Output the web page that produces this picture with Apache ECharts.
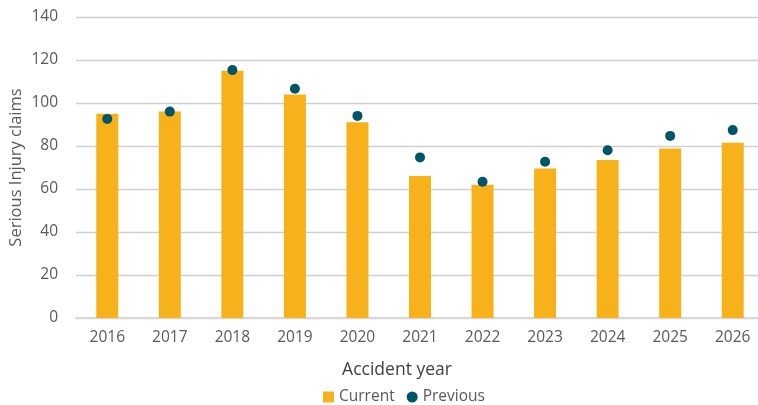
<!DOCTYPE html>
<html>
<head>
<meta charset="utf-8">
<script src="https://cdn.jsdelivr.net/npm/echarts@6/dist/echarts.min.js"></script>
<style>
  html, body { margin: 0; padding: 0; background: #fff; }
  #chart { width: 758px; height: 405px; }
</style>
</head>
<body>
<div id="chart"></div>
<script>
// Serious injury claims by accident year: current vs previous estimate
const years = ['2016', '2017', '2018', '2019', '2020', '2021', '2022', '2023', '2024', '2025', '2026'];
const current = [95, 96, 115, 104, 91, 66, 62, 69.5, 73.5, 78.8, 81.5];
const previous = [92.6, 96, 115.3, 106.6, 94, 74.7, 63.4, 72.7, 78, 84.7, 87.4];
const yTicks = [0, 20, 40, 60, 80, 100, 120, 140];

const FONT = 'Open Sans';
const chart = echarts.init(document.getElementById('chart'));

chart.setOption({
  backgroundColor: '#ffffff',
  animation: false,
  textStyle: { fontFamily: FONT },
  // the plot runs slightly past the right edge of the canvas
  grid: { left: 76, top: 17, right: -6, height: 301, containLabel: false, outerBoundsMode: 'none' },
  legend: {
    left: 318,
    top: 384,
    itemWidth: 11,
    itemHeight: 11,
    itemGap: 12,
    textStyle: { fontFamily: FONT, fontSize: 15.5, color: '#595959' },
    data: [
      { name: 'Current', icon: 'rect' },
      { name: 'Previous', icon: 'circle' }
    ]
  },
  title: {
    text: 'Accident year',
    left: 392,
    top: 356,
    textAlign: 'center',
    textStyle: { fontFamily: FONT, fontSize: 17.5, fontWeight: 'normal', color: '#404040' }
  },
  xAxis: {
    type: 'category',
    data: years,
    axisTick: { show: false },
    axisLine: { show: true, lineStyle: { color: '#d9d9d9', width: 2 } },
    axisLabel: { color: '#595959', fontSize: 15.5, fontFamily: FONT, margin: 12 }
  },
  yAxis: {
    type: 'value',
    min: yTicks[0],
    max: yTicks[yTicks.length - 1],
    interval: 20,
    name: 'Serious Injury claims',
    nameLocation: 'middle',
    nameGap: 51,
    nameMoveOverlap: false,
    nameTextStyle: { color: '#595959', fontSize: 16.5, fontFamily: FONT },
    axisLine: { show: false },
    axisTick: { show: false },
    axisLabel: { color: '#595959', fontSize: 15.5, fontFamily: FONT, margin: 18 },
    splitLine: { lineStyle: { color: '#d0d0d0', width: 1.3 } }
  },
  series: [
    {
      name: 'Current',
      type: 'bar',
      data: current,
      barWidth: 22,
      itemStyle: { color: '#F7B11A' }
    },
    {
      name: 'Previous',
      type: 'scatter',
      data: previous,
      symbol: 'circle',
      symbolSize: 10,
      itemStyle: { color: '#005569', opacity: 1 },
      z: 3
    }
  ]
});
</script>
</body>
</html>
